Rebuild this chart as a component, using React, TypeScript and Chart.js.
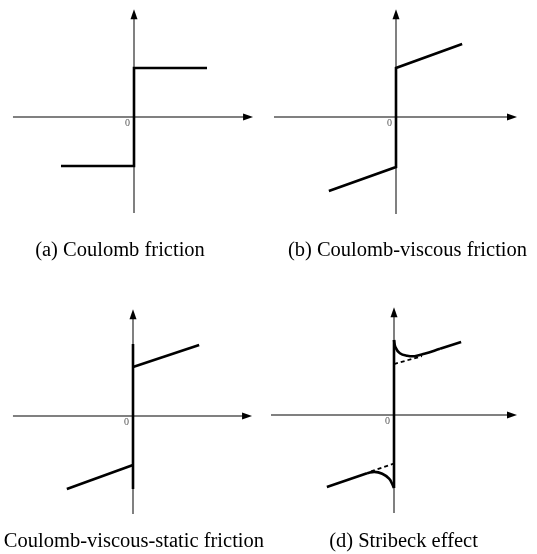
import React, { useEffect, useRef } from "react";
import { Chart, registerables } from "chart.js";

Chart.register(...registerables);

type P = { x: number; y: number };

// ---- Data (units: Coulomb level Fc = 1) ----
// (a) Coulomb friction
const coulomb: P[] = [
  { x: -1.49, y: -1 },
  { x: 0, y: -1 },
  { x: 0, y: 1 },
  { x: 1.49, y: 1 },
];
const aXAxis = [-2.47, 2.43];
const aYAxis = [-1.96, 2.2];

// (b) Coulomb-viscous friction
const viscous: P[] = [
  { x: -1.37, y: -1.51 },
  { x: 0, y: -1.02 },
  { x: 0, y: 1.0 },
  { x: 1.35, y: 1.49 },
];
const bXAxis = [-2.49, 2.47];
const bYAxis = [-1.98, 2.2];

// (c) Coulomb-viscous-static friction
const staticJump: P[] = [
  { x: 0, y: -1.49 },
  { x: 0, y: 1.47 },
];
const cUpper: P[] = [
  { x: 0, y: 1.0 },
  { x: 1.35, y: 1.45 },
];
const cLower: P[] = [
  { x: -1.35, y: -1.49 },
  { x: 0, y: -1.0 },
];
const cXAxis = [-2.45, 2.43];
const cYAxis = [-2.0, 2.18];

// (d) Stribeck effect
const stribeckJump: P[] = [
  { x: 0, y: -1.49 },
  { x: 0, y: 1.53 },
];
const stribeckUpperCurve: P[] = [
  { x: 0, y: 1.53 },
  { x: 0.03, y: 1.38 },
  { x: 0.12, y: 1.26 },
  { x: 0.27, y: 1.21 },
  { x: 0.42, y: 1.2 },
  { x: 0.62, y: 1.25 },
  { x: 0.94, y: 1.35 },
];
const stribeckUpperLine: P[] = [
  { x: 0.94, y: 1.35 },
  { x: 1.37, y: 1.49 },
];
const stribeckUpperDashed: P[] = [
  { x: 0, y: 1.04 },
  { x: 0.57, y: 1.2 },
];
const stribeckLowerLine: P[] = [
  { x: -1.37, y: -1.47 },
  { x: -0.55, y: -1.19 },
];
const stribeckLowerCurve: P[] = [
  { x: -0.55, y: -1.19 },
  { x: -0.4, y: -1.16 },
  { x: -0.24, y: -1.2 },
  { x: -0.1, y: -1.3 },
  { x: -0.03, y: -1.42 },
  { x: 0, y: -1.49 },
];
const stribeckLowerDashed: P[] = [
  { x: -0.47, y: -1.15 },
  { x: 0, y: -0.99 },
];
const dXAxis = [-2.51, 2.51];
const dYAxis = [-2.0, 2.2];

const captions = [
  "(a) Coulomb friction",
  "(b) Coulomb-viscous friction",
  "(c) Coulomb-viscous-static friction",
  "(d) Stribeck effect",
];

// ---- Layout ----
const UNIT = 49;
const W = 537;
const H = 554;

type Line = { data: P[]; dashed?: boolean; curve?: boolean };
type PanelCfg = {
  left: number;
  top: number;
  w: number;
  h: number;
  ox: number;
  oy: number;
  lines: Line[];
  xAxis: number[];
  yAxis: number[];
};

function Panel({ cfg }: { cfg: PanelCfg }) {
  const ref = useRef<HTMLCanvasElement | null>(null);
  useEffect(() => {
    if (!ref.current) return;
    const { w, h, ox, oy, lines, xAxis, yAxis } = cfg;
    const axisPlugin = {
      id: "axisDecor",
      afterDatasetsDraw(chart: any) {
        const ctx = chart.ctx as CanvasRenderingContext2D;
        const xs = chart.scales.x;
        const ys = chart.scales.y;
        const x0 = xs.getPixelForValue(0);
        const y0 = ys.getPixelForValue(0);
        const xTip = xs.getPixelForValue(xAxis[1]);
        const yTip = ys.getPixelForValue(yAxis[1]);
        const len = 10;
        const hw = 3.5;
        ctx.save();
        ctx.fillStyle = "#000";
        ctx.beginPath();
        ctx.moveTo(xTip, y0);
        ctx.lineTo(xTip - len, y0 - hw);
        ctx.lineTo(xTip - len, y0 + hw);
        ctx.closePath();
        ctx.fill();
        ctx.beginPath();
        ctx.moveTo(x0, yTip);
        ctx.lineTo(x0 - hw, yTip + len);
        ctx.lineTo(x0 + hw, yTip + len);
        ctx.closePath();
        ctx.fill();
        ctx.fillStyle = "#555";
        ctx.font = '10px "Liberation Serif"';
        ctx.textAlign = "center";
        ctx.textBaseline = "middle";
        ctx.fillText("0", x0 - 6.5, y0 + 6);
        ctx.restore();
      },
    };
    const datasets: any[] = lines.map((l) => ({
      data: l.data,
      showLine: true,
      borderColor: "#000",
      borderWidth: l.dashed ? 1.8 : 2.6,
      borderDash: l.dashed ? [4, 3] : [],
      tension: l.curve ? 0.4 : 0,
      pointRadius: 0,
      fill: false,
    }));
    datasets.push({
      data: [
        { x: xAxis[0], y: 0 },
        { x: xAxis[1] - 0.1, y: 0 },
      ],
      showLine: true,
      borderColor: "#808080",
      borderWidth: 2,
      pointRadius: 0,
    });
    datasets.push({
      data: [
        { x: 0, y: yAxis[0] },
        { x: 0, y: yAxis[1] - 0.1 },
      ],
      showLine: true,
      borderColor: "#808080",
      borderWidth: 2,
      pointRadius: 0,
    });
    const chart = new Chart(ref.current, {
      type: "scatter",
      data: { datasets },
      options: {
        animation: false,
        responsive: false,
        events: [],
        layout: { padding: 0 },
        scales: {
          x: { type: "linear", display: false, min: -ox / UNIT, max: (w - ox) / UNIT },
          y: { type: "linear", display: false, min: -(h - oy) / UNIT, max: oy / UNIT },
        },
        plugins: { legend: { display: false }, tooltip: { enabled: false } },
      } as any,
      plugins: [axisPlugin],
    });
    return () => chart.destroy();
  }, [cfg]);
  return (
    <div style={{ position: "absolute", left: cfg.left, top: cfg.top, width: cfg.w, height: cfg.h }}>
      <canvas ref={ref} width={cfg.w} height={cfg.h} style={{ display: "block" }} />
    </div>
  );
}

const panels: PanelCfg[] = [
  { left: 0, top: 0, w: 268, h: 277, ox: 134, oy: 117, lines: [{ data: coulomb }], xAxis: aXAxis, yAxis: aYAxis },
  { left: 268, top: 0, w: 269, h: 277, ox: 128, oy: 117, lines: [{ data: viscous }], xAxis: bXAxis, yAxis: bYAxis },
  {
    left: 0, top: 277, w: 268, h: 277, ox: 133, oy: 139,
    lines: [{ data: staticJump }, { data: cUpper }, { data: cLower }],
    xAxis: cXAxis, yAxis: cYAxis,
  },
  {
    left: 268, top: 277, w: 269, h: 277, ox: 126, oy: 138,
    lines: [
      { data: stribeckJump },
      { data: stribeckUpperCurve, curve: true },
      { data: stribeckUpperLine },
      { data: stribeckUpperDashed, dashed: true },
      { data: stribeckLowerLine },
      { data: stribeckLowerCurve, curve: true },
      { data: stribeckLowerDashed, dashed: true },
    ],
    xAxis: dXAxis, yAxis: dYAxis,
  },
];

const captionPos = [
  { cx: 120, base: 256 },
  { cx: 407.5, base: 256 },
  { cx: 120, base: 547 },
  { cx: 403.5, base: 547 },
];

export default function App() {
  const fs = 20.5;
  return (
    <div
      style={{
        position: "absolute",
        left: 0,
        top: 0,
        width: W,
        height: H,
        overflow: "hidden",
        background: "#fff",
      }}
    >
      {panels.map((p, i) => (
        <Panel key={i} cfg={p} />
      ))}
      {captions.map((c, i) => (
        <div
          key={"c" + i}
          style={{
            position: "absolute",
            left: captionPos[i].cx - 250,
            width: 500,
            top: captionPos[i].base - 17.2,
            textAlign: "center",
            fontFamily: '"Liberation Serif", "Times New Roman", serif',
            fontSize: fs,
            lineHeight: fs + "px",
            whiteSpace: "nowrap",
            color: "#000",
          }}
        >
          {c}
        </div>
      ))}
    </div>
  );
}
